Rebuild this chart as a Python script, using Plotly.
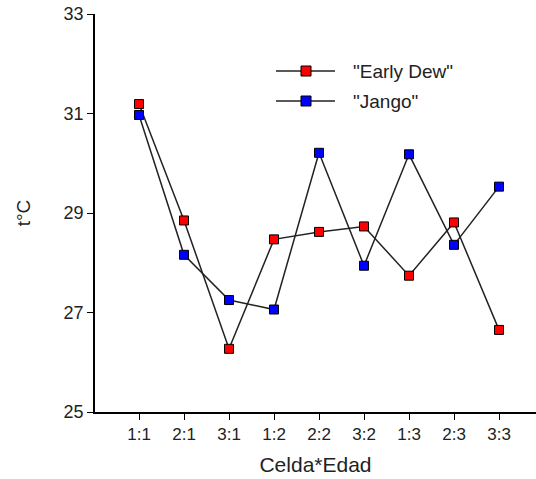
import plotly.graph_objects as go

categories = ["1:1", "2:1", "3:1", "1:2", "2:2", "3:2", "1:3", "2:3", "3:3"]
early_dew = [31.19, 28.85, 26.27, 28.47, 28.62, 28.73, 27.74, 28.81, 26.65]
jango = [30.97, 28.16, 27.25, 27.06, 30.21, 27.94, 30.18, 28.36, 29.53]
y_ticks = [25, 27, 29, 31, 33]
series_names = ['"Early Dew"', '"Jango"']
series_colors = ["#ff0000", "#0000ff"]

x_idx = list(range(len(categories)))

W, H = 536, 479
L, R, T, B = 95, 0, 14, 67
pw, ph = W - L - R, H - T - B

def px(x):
    return (x - L) / pw

def py(y):
    return (H - B - y) / ph

fig = go.Figure()
for name, vals, col in zip(series_names, [early_dew, jango], series_colors):
    fig.add_trace(go.Scatter(
        x=x_idx, y=vals, name=name, mode="lines+markers", showlegend=False,
        line=dict(color="#222222", width=1.5),
        marker=dict(symbol="square", size=9, color=col, line=dict(color="#000000", width=1)),
    ))

# manual legend (matches reference style: long line segment with marker)
shapes = []
annotations = []
for i, (name, col) in enumerate(zip(series_names, series_colors)):
    yy = 71 + i * 30
    shapes.append(dict(type="line", xref="paper", yref="paper",
                       x0=px(276), x1=px(335), y0=py(yy), y1=py(yy),
                       line=dict(color="#222222", width=1.5)))
    shapes.append(dict(type="rect", xref="paper", yref="paper",
                       x0=px(301), x1=px(311), y0=py(yy - 5), y1=py(yy + 5),
                       fillcolor=col, line=dict(color="#000000", width=1)))
    annotations.append(dict(xref="paper", yref="paper", x=px(351), y=py(yy),
                            xanchor="left", yanchor="middle", showarrow=False,
                            text=name, font=dict(size=19)))

font_family = "Liberation Sans, Arial, sans-serif"
fig.update_layout(
    width=W, height=H,
    margin=dict(l=L, r=R, t=T, b=B, autoexpand=False),
    paper_bgcolor="white", plot_bgcolor="white",
    font=dict(family=font_family, size=17, color="#222222"),
    shapes=shapes, annotations=annotations,
    xaxis=dict(
        range=[-0.978, 8.822], tickmode="array", tickvals=x_idx, ticktext=categories,
        showline=True, linecolor="#000000", linewidth=1.5, ticks="outside", ticklen=6,
        tickcolor="#000000", showgrid=False, zeroline=False, tickfont=dict(size=17),
        title=dict(text="Celda*Edad", font=dict(size=21), standoff=14),
    ),
    yaxis=dict(
        range=[25, 33], tickmode="array", tickvals=y_ticks, ticktext=[str(v) for v in y_ticks],
        showline=True, linecolor="#000000", linewidth=1.5, ticks="outside", ticklen=6,
        tickcolor="#000000", showgrid=False, zeroline=False, tickfont=dict(size=18),
        title=dict(text="t°C", font=dict(size=19), standoff=28),
    ),
)

fig.write_html("out.html", config={"displayModeBar": False},
               post_script="document.body.style.margin='0';")
